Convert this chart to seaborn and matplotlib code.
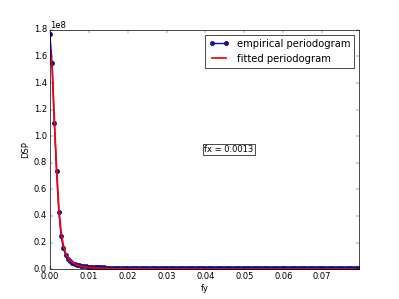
import numpy as np
import matplotlib
matplotlib.use("Agg")
import matplotlib.pyplot as plt
import seaborn as sns

# ----------------------------------------------------------------------------
# Data (DSP in units of 1e6)

fy = [0.00000, 0.00058, 0.00115, 0.00173, 0.00230, 0.00288, 0.00346, 0.00403, 0.00461, 0.00518,
      0.00576, 0.00634, 0.00691, 0.00749, 0.00806, 0.00864, 0.00922, 0.00979, 0.01037, 0.01094,
      0.01152, 0.01210, 0.01267, 0.01325, 0.01382, 0.01440, 0.01498, 0.01555, 0.01613, 0.01670,
      0.01728, 0.01786, 0.01843, 0.01901, 0.01958, 0.02016, 0.02074, 0.02131, 0.02189, 0.02246,
      0.02304, 0.02362, 0.02419, 0.02477, 0.02534, 0.02592, 0.02650, 0.02707, 0.02765, 0.02822,
      0.02880, 0.02938, 0.02995, 0.03053, 0.03110, 0.03168, 0.03226, 0.03283, 0.03341, 0.03398,
      0.03456, 0.03514, 0.03571, 0.03629, 0.03686, 0.03744, 0.03802, 0.03859, 0.03917, 0.03974,
      0.04032, 0.04090, 0.04147, 0.04205, 0.04262, 0.04320, 0.04378, 0.04435, 0.04493, 0.04550,
      0.04608, 0.04666, 0.04723, 0.04781, 0.04838, 0.04896, 0.04954, 0.05011, 0.05069, 0.05126,
      0.05184, 0.05242, 0.05299, 0.05357, 0.05414, 0.05472, 0.05530, 0.05587, 0.05645, 0.05702,
      0.05760, 0.05818, 0.05875, 0.05933, 0.05990, 0.06048, 0.06106, 0.06163, 0.06221, 0.06278,
      0.06336, 0.06394, 0.06451, 0.06509, 0.06566, 0.06624, 0.06682, 0.06739, 0.06797, 0.06854,
      0.06912, 0.06970, 0.07027, 0.07085, 0.07142, 0.07200, 0.07258, 0.07315, 0.07373, 0.07430,
      0.07488, 0.07546, 0.07603, 0.07661, 0.07718, 0.07776, 0.07834, 0.07891, 0.07949]

empirical = [176.7, 154.9, 109.7, 73.8, 43.1, 24.8, 16.0, 10.5, 7.8, 6.0,
             4.8, 4.0, 3.4, 2.9, 2.5, 2.2, 2.0, 1.8, 1.7, 1.6,
             1.5, 1.4, 1.35, 1.3, 1.25, 1.2, 1.2, 1.15, 1.1, 1.1,
             1.05, 1.1, 1.0, 1.05, 1.0, 0.95, 1.0, 0.95, 0.9, 0.95,
             0.9, 0.95, 0.9, 0.85, 0.9, 0.9, 0.85, 0.9, 0.85, 0.9,
             0.85, 0.8, 0.85, 0.85, 0.8, 0.85, 0.8, 0.85, 0.8, 0.8,
             0.85, 0.8, 0.8, 0.75, 0.8, 0.8, 0.75, 0.8, 0.8, 0.75,
             0.8, 0.75, 0.8, 0.75, 0.75, 0.8, 0.75, 0.75, 0.8, 0.75,
             0.75, 0.7, 0.75, 0.75, 0.7, 0.75, 0.75, 0.7, 0.75, 0.7,
             0.75, 0.7, 0.7, 0.75, 0.7, 0.7, 0.75, 0.7, 0.7, 0.7,
             0.75, 0.7, 0.7, 0.7, 0.7, 0.75, 0.7, 0.7, 0.7, 0.7,
             0.7, 0.7, 0.75, 0.7, 0.7, 0.7, 0.7, 0.7, 0.7, 0.75,
             0.7, 0.7, 0.7, 0.7, 0.7, 0.7, 0.7, 0.7, 0.7, 0.7,
             0.7, 0.7, 0.7, 0.7, 0.7, 0.7, 0.7, 0.7, 0.7]

fitted = [166.0, 151.0, 112.0, 75.0, 46.0, 28.0, 18.0, 12.2, 8.8, 6.6,
          5.1, 4.1, 3.3, 2.7, 2.2, 1.8, 1.5, 1.25, 1.05, 0.9,
          0.78, 0.68, 0.6, 0.53, 0.47, 0.42, 0.38, 0.34, 0.31, 0.28,
          0.26, 0.24, 0.22, 0.2, 0.19, 0.18, 0.17, 0.16, 0.15, 0.14,
          0.13, 0.12, 0.12, 0.11, 0.11, 0.1, 0.1, 0.09, 0.09, 0.09,
          0.08, 0.08, 0.08, 0.07, 0.07, 0.07, 0.07, 0.06, 0.06, 0.06,
          0.06, 0.06, 0.05, 0.05, 0.05, 0.05, 0.05, 0.05, 0.05, 0.04,
          0.04, 0.04, 0.04, 0.04, 0.04, 0.04, 0.04, 0.04, 0.04, 0.04,
          0.03, 0.03, 0.03, 0.03, 0.03, 0.03, 0.03, 0.03, 0.03, 0.03,
          0.03, 0.03, 0.03, 0.03, 0.03, 0.03, 0.03, 0.03, 0.03, 0.03,
          0.03, 0.03, 0.02, 0.02, 0.02, 0.02, 0.02, 0.02, 0.02, 0.02,
          0.02, 0.02, 0.02, 0.02, 0.02, 0.02, 0.02, 0.02, 0.02, 0.02,
          0.02, 0.02, 0.02, 0.02, 0.02, 0.02, 0.02, 0.02, 0.02, 0.02,
          0.02, 0.02, 0.02, 0.02, 0.02, 0.02, 0.02, 0.02, 0.02]

fx_label = 'fx = 0.0013'

# ----------------------------------------------------------------------------

plt.style.use('classic')

fig = plt.figure(figsize=(7.98, 5.98), dpi=50)
ax = fig.add_subplot(111)

emp = np.array(empirical) * 1e6
fit = np.array(fitted) * 1e6

sns.lineplot(x=fy, y=emp, ax=ax, color='b', lw=2, marker='o', markersize=6,
             mec='#10108a', mfc='#10108a', mew=1, label='empirical periodogram',
             sort=False, estimator=None)
sns.lineplot(x=fy, y=fit, ax=ax, color='r', lw=2.5, label='fitted periodogram',
             sort=False, estimator=None)

ax.set_xlim(0, fy[-1])
ax.set_ylim(0, 1.8e8)
ax.set_xlabel('fy')
ax.set_ylabel('DSP')
ax.text(0.5, 0.5, fx_label, transform=ax.transAxes, ha='left', va='center',
        bbox=dict(facecolor='white', edgecolor='black', pad=1.5))
ax.legend(loc='upper right', numpoints=2)

plt.savefig('out.png', dpi=50, facecolor='white')
plt.close(fig)
